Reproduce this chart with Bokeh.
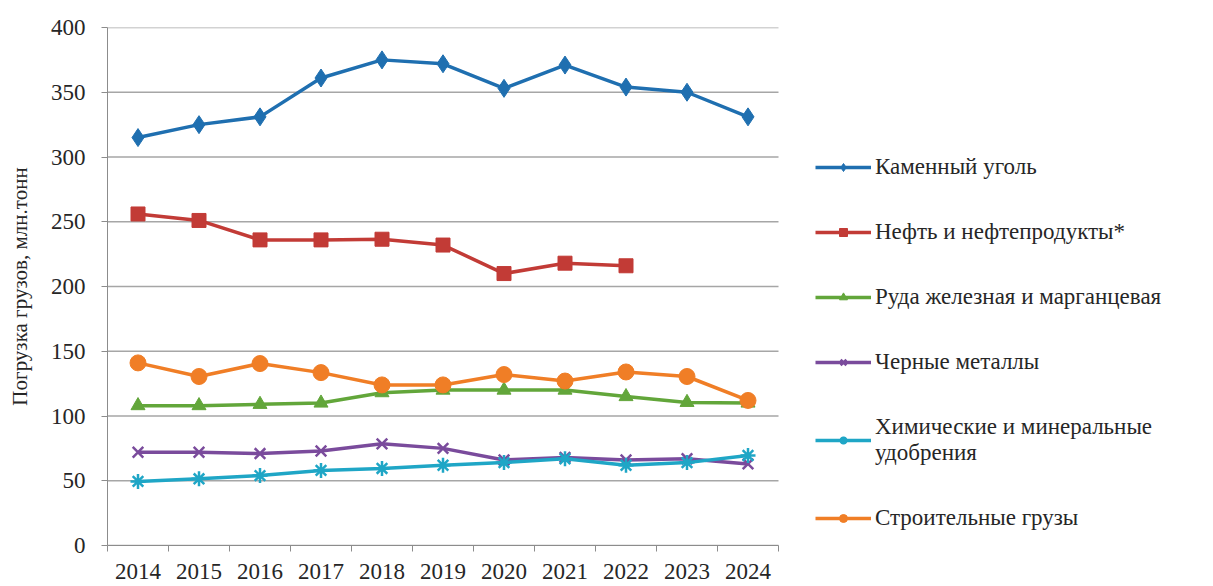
from bokeh.plotting import figure
from bokeh.models import Legend, LegendItem, FixedTicker, Range1d, ColumnDataSource
from bokeh.embed import file_html
from bokeh.resources import INLINE

years = ["2014", "2015", "2016", "2017", "2018", "2019", "2020", "2021", "2022", "2023", "2024"]
coal = [315, 325, 331, 361, 375, 372, 353, 371, 354, 350, 331]
oil = [256, 251, 236, 236, 236.5, 232, 210, 218, 216]
ore = [108, 108, 109, 110, 118, 120, 120, 120, 115, 110.5, 110]
metals = [72, 72, 71, 73, 78.5, 75, 66, 68, 66, 67, 63]
fert = [49.5, 51.5, 54, 58, 59.5, 62, 64, 67, 62, 64, 69.5]
build = [141, 130.5, 140.5, 133.5, 124, 124, 132, 127, 134, 130.5, 112]
y_ticks = [0, 50, 100, 150, 200, 250, 300, 350, 400]

series = [
    ("Каменный уголь", coal, "#1f6fb0", "diamond", 18),
    ("Нефть и нефтепродукты*", oil, "#c23b36", "square", 14),
    ("Руда железная и марганцевая", ore, "#62a63a", "triangle", 14),
    ("Черные металлы", metals, "#7a4b9c", "x", 15),
    ("Химические и минеральные\nудобрения", fert, "#1fa6c6", "asterisk", 15),
    ("Строительные грузы", build, "#f07e26", "circle", 16),
]

FONT = "Liberation Serif"
TXT = "#262626"

W, H = 1213, 586
LEFT, TOP, BOTTOM = 107, 27, 41
PLOT_W = 671  # width of the data area; the rest of the frame hosts the legend
n = len(years)
frame_w = W - LEFT
x_end = n * frame_w / PLOT_W

p = figure(width=W, height=H, output_backend="svg", toolbar_location=None,
           min_border_left=LEFT, min_border_top=TOP, min_border_bottom=BOTTOM, min_border_right=0,
           x_range=Range1d(0, x_end), y_range=Range1d(0, 400))
p.outline_line_color = None
p.background_fill_color = "white"
p.border_fill_color = "white"

# horizontal grid lines restricted to the data area
p.xgrid.grid_line_color = None
p.ygrid.grid_line_color = None
p.segment(x0=[0] * len(y_ticks), x1=[n] * len(y_ticks), y0=y_ticks, y1=y_ticks,
          line_color="#a6a6a6", line_width=1.5)

items = []
for name, vals, color, marker, size in series:
    xs = [i + 0.5 for i in range(len(vals))]
    src = ColumnDataSource(dict(x=xs, y=vals))
    r1 = p.line("x", "y", source=src, line_color=color, line_width=3.5)
    r2 = p.scatter("x", "y", source=src, marker=marker, size=size, fill_color=color,
                   line_color=color, line_width=2.5 if marker in ("x", "asterisk") else 1)
    items.append(LegendItem(label=name, renderers=[r1, r2]))

p.xaxis.bounds = (0, n)
p.xaxis.ticker = FixedTicker(ticks=[i + 0.5 for i in range(n)], minor_ticks=list(range(n + 1)))
p.xaxis.major_label_overrides = {i + 0.5: y for i, y in enumerate(years)}
p.xaxis.major_tick_out = 0
p.xaxis.major_tick_in = 0
p.xaxis.minor_tick_out = 6
p.xaxis.minor_tick_in = 0
p.xaxis.minor_tick_line_color = "#8c8c8c"
p.xaxis.axis_line_color = "#8c8c8c"
p.xaxis.major_label_standoff = 12

p.yaxis.ticker = FixedTicker(ticks=y_ticks)
p.yaxis.axis_line_color = "#8c8c8c"
p.yaxis.major_tick_line_color = "#8c8c8c"
p.yaxis.major_tick_out = 6
p.yaxis.major_tick_in = 0
p.yaxis.minor_tick_out = 0
p.yaxis.minor_tick_in = 0
p.yaxis.major_label_standoff = 16
p.yaxis.axis_label = "Погрузка грузов, млн.тонн"
p.yaxis.axis_label_standoff = 16

for ax in (p.xaxis, p.yaxis):
    ax.major_label_text_font = FONT
    ax.major_label_text_font_size = "23px"
    ax.major_label_text_color = TXT
ax = p.yaxis
ax.axis_label_text_font = FONT
ax.axis_label_text_font_size = "21px"
ax.axis_label_text_font_style = "normal"
ax.axis_label_text_color = TXT

legend = Legend(items=items, location=(708, 14), orientation="vertical")
legend.label_text_font = FONT
legend.label_text_font_size = "23px"
legend.label_text_color = TXT
legend.glyph_width = 56
legend.glyph_height = 20
legend.label_standoff = 4
legend.spacing = 39
legend.padding = 0
legend.margin = 0
legend.border_line_alpha = 0
legend.background_fill_alpha = 0
p.add_layout(legend, "center")

open("out.html", "w").write(file_html(p, INLINE))
